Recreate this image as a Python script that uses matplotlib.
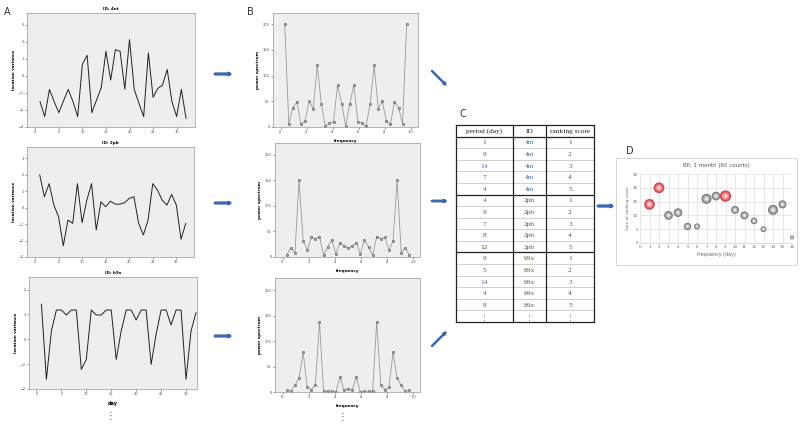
import matplotlib.pyplot as plt
import numpy as np
from matplotlib.patches import Rectangle

W, H = 800, 441

# ---- A: location variance per day
days = list(range(1, 33))
var_4nt = [-1.51, -2.39, -0.80, -1.51, -2.16, -1.46, -0.80, -1.51, -2.39, 0.68,
           1.20, -2.16, -1.42, -0.70, 1.44, -0.25, 1.53, 1.44, -0.78, 2.12,
           -0.80, -1.61, -2.39, 1.34, -1.26, -0.74, -0.54, 0.37, -1.51, -2.39,
           -0.80, -2.49]
var_2pb = [2.00, 0.67, 1.47, 0.16, -0.55, -2.32, -0.75, -0.95, 1.47, -0.91,
           0.46, 1.47, -1.35, 0.36, 0.06, 0.40, 0.22, 0.22, 0.30, 0.57,
           0.67, -0.95, -1.66, -0.75, 1.47, 1.07, 0.46, 0.16, 0.81, 0.16,
           -1.92, -0.95]
var_h9x = [1.41, -1.61, 0.34, 1.18, 1.18, 0.98, 1.18, 1.18, -1.21, -0.81,
           1.18, 0.98, 0.98, 1.18, 1.18, -0.81, 0.34, 1.18, 1.18, 0.78,
           1.18, 1.18, -1.01, 0.20, 1.18, 1.18, 0.58, 1.18, 1.18, -1.61,
           0.34, 1.07]

# ---- B: power spectrum, frequency = k/32
freq = [k / 32 for k in range(1, 32)]
pow_4nt = [200, 6.5, 37.7, 48.7, 5.2, 11.7, 50, 35.7, 120, 44.2, 1.3, 7.8, 9.7, 81.2, 45.5, 2,
           45.5, 81.2, 9.7, 7.8, 1.3, 44.2, 120, 35.7, 50, 11.7, 5.2, 48.7, 37.7, 6.5, 200]
pow_2pb = [4, 17.8, 8.6, 151, 31.6, 13.2, 38.8, 35.5, 40.1, 3.3, 19.7, 32.9, 6.6, 28.3, 21, 18.4,
           21, 28.3, 6.6, 32.9, 19.7, 3.3, 40.1, 35.5, 38.8, 13.2, 31.6, 151, 8.6, 17.8, 4]
pow_h9x = [3.3, 1.3, 13.2, 27.6, 77.6, 9.2, 4.6, 14.5, 137.5, 1.3, 1.3, 1.3, 0, 28.9, 4.6, 6.6,
           4.6, 28.9, 0, 1.3, 1.3, 1.3, 137.5, 14.5, 4.6, 9.2, 77.6, 27.6, 13.2, 1.3, 3.3]

# ---- C: ranking table
tbl_header = ['period (day)', 'ID', 'ranking score']
tbl_period = ['1', '9', '14', '7', '4', '4', '9', '7', '8', '12', '9', '5', '14', '4', '8']
tbl_id = ['4nt'] * 5 + ['2pb'] * 5 + ['h9x'] * 5
tbl_rank = ['1', '2', '3', '4', '5'] * 3

# ---- D: bubble chart
bp_day = list(range(1, 17))
bp_score = [14, 20, 10, 11, 6, 6, 16, 17, 17, 12, 10, 8, 5, 12, 14, 2]
bp_size = [16, 16, 13, 13, 11, 9, 15, 13, 17, 12, 12, 10, 9, 15, 12, 6]
bp_top = [1, 2, 9]

fig = plt.figure(figsize=(8, 4.41), dpi=100)


def box(l, t, r, b):
    return [l / W, 1 - b / H, (r - l) / W, (b - t) / H]


def style(ax):
    ax.set_facecolor('#eeeeee')
    for s in ax.spines.values():
        s.set_color('#999999')
        s.set_linewidth(0.5)
    ax.tick_params(labelsize=2.5, length=1.5, width=0.4, pad=1, colors='#444444')


def line_panel(rect, title, y, xlim, ylim, yticks, xlabel=None):
    ax = fig.add_axes(box(*rect))
    style(ax)
    ax.plot(days, y, color='#222222', lw=0.7)
    ax.set_xlim(xlim)
    ax.set_ylim(ylim)
    ax.set_xticks([0, 5, 10, 15, 20, 25, 30])
    ax.set_yticks(yticks)
    ax.set_ylabel('location variance', fontsize=3, fontweight='bold', labelpad=2)
    ax.set_title(title, fontsize=3, fontweight='bold', pad=2)
    if xlabel:
        ax.set_xlabel(xlabel, fontsize=3.5, fontweight='bold', labelpad=3)


def spec_panel(rect, p, xlim, ylim):
    ax = fig.add_axes(box(*rect))
    style(ax)
    ax.plot(freq, p, color='#999999', lw=0.6, marker='o', ms=1.6,
            mfc='#bbbbbb', mec='#444444', mew=0.4)
    ax.set_xlim(xlim)
    ax.set_ylim(ylim)
    ax.set_xticks([0, 0.2, 0.4, 0.6, 0.8, 1.0])
    ax.set_xticklabels(['.0', '.2', '.4', '.6', '.8', '1.0'])
    ax.set_yticks([0, 50, 100, 150, 200])
    ax.set_ylabel('power spectrum', fontsize=3, fontweight='bold', labelpad=2)
    ax.set_xlabel('frequency', fontsize=3, fontweight='bold', labelpad=3)


line_panel((27, 13, 195, 127), 'ID: 4nt', var_4nt, (-1.76, 33.9), (-3, 3.68), [-3, -2, -1, 0, 1, 2, 3])
line_panel((27, 147, 194, 257), 'ID: 2pb', var_2pb, (-1.7, 33.75), (-3, 3.7), [-3, -2, -1, 0, 1, 2, 3])
line_panel((29, 277, 197, 389), 'ID: h9x', var_h9x, (-1.49, 32.2), (-2, 2.51), [-2, -1, 0, 1, 2], xlabel='day')

spec_panel((273, 13, 418, 127), pow_4nt, (-0.059, 1.056), (0, 221.5))
spec_panel((275, 143, 420, 257), pow_2pb, (-0.059, 1.05), (0, 223))
spec_panel((275, 278, 420, 392), pow_h9x, (-0.059, 1.05), (0, 223.6))

# ---- table C
tax = fig.add_axes(box(456, 125, 594, 322))
tax.set_axis_off()
nrows = len(tbl_period) + 2
tax.set_xlim(456, 594)
tax.set_ylim(nrows, 0)
cols = [456, 513, 546, 594]
mids = [(cols[i] + cols[i + 1]) / 2 for i in range(3)]
blue, brown = '#4a6ea8', '#6b5034'
for j, h in enumerate(tbl_header):
    tax.text(mids[j], 0.55, h, ha='center', va='center', fontsize=5.3,
             family='Liberation Serif', color='#222222')
for i in range(len(tbl_period)):
    r = i + 1.55
    pc = blue if tbl_period[i] in ('14', '4') else brown
    ic = blue if tbl_id[i] == '4nt' else brown
    tax.text(mids[0], r, tbl_period[i], ha='center', va='center', fontsize=5.3,
             family='Liberation Serif', color=pc)
    tax.text(mids[1], r, tbl_id[i], ha='center', va='center', fontsize=5.3,
             family='Liberation Serif', color=ic)
    tax.text(mids[2], r, tbl_rank[i], ha='center', va='center', fontsize=5.3,
             family='Liberation Serif', color=brown)
for j in range(3):
    tax.text(mids[j], nrows - 0.45, '⋮', ha='center', va='center', fontsize=5,
             color='#555555')
for i in range(1, nrows):
    thick = i in (1, 6, 11)
    tax.plot([456, 594], [i, i], color='#222222' if thick else '#bbbbbb',
             lw=0.9 if thick else 0.5, clip_on=False)
for c in cols:
    tax.plot([c, c], [0, nrows], color='#222222', lw=0.9, clip_on=False)
tax.plot([456, 594], [0, 0], color='#222222', lw=0.9, clip_on=False)
tax.plot([456, 594], [nrows, nrows], color='#222222', lw=0.9, clip_on=False)

# ---- bubble chart D
fig.add_artist(Rectangle((616 / W, 1 - 265 / H), 181 / W, 107 / H,
                         transform=fig.transFigure, fill=False, ec='#d0d0d0', lw=0.6))
dax = fig.add_axes(box(640, 174, 792, 243))
dax.set_xlim(0, 16)
dax.set_ylim(0, 25)
dax.set_xticks(range(0, 17))
dax.set_yticks(range(0, 26, 5))
dax.grid(True, color='#dddddd', lw=0.5)
dax.set_axisbelow(True)
for s in dax.spines.values():
    s.set_visible(False)
dax.spines['bottom'].set_visible(True)
dax.spines['bottom'].set_color('#cccccc')
dax.spines['bottom'].set_linewidth(0.5)
dax.tick_params(labelsize=3, length=0, pad=1.5, colors='#666666')
dax.set_title('BP, 1 month (60 counts)', fontsize=4, color='#555555', pad=5)
dax.set_ylabel('Sum of ranking score', fontsize=3, color='#666666', labelpad=2)
dax.set_xlabel('frequency (day)', fontsize=3.5, color='#666666', labelpad=2)
bx = np.array(bp_day)
by = np.array(bp_score)
bs = (0.48 * np.array(bp_size)) ** 2
red = np.isin(bx, bp_top)
for scale, cg, cr in [(1.0, '#727272', '#c0404a'), (0.7, '#929292', '#dc5a64'),
                      (0.4, '#b8b8b8', '#ee8a90'), (0.12, '#e8e8e8', '#fbd0d2')]:
    dax.scatter(bx[~red], by[~red], s=bs[~red] * scale, color=cg, lw=0, zorder=3, clip_on=False)
    dax.scatter(bx[red], by[red], s=bs[red] * scale, color=cr, lw=0, zorder=3, clip_on=False)

# ---- panel letters, arrows, dots
for lbl, x, y in [('A', 7, 12), ('B', 250, 12), ('C', 463, 114), ('D', 630, 151)]:
    fig.text(x / W, 1 - y / H, lbl, fontsize=7, color='#333333', ha='center', va='center')

arrows = [((215, 74), (233, 74), 2.0), ((215, 203), (233, 203), 2.0), ((215, 336), (233, 336), 2.0),
          ((432, 71), (447, 86), 1.6), ((432, 201), (448, 201), 1.8), ((432, 346), (447, 331), 1.6),
          ((598, 206), (615, 206), 2.0)]
for (x1, y1), (x2, y2), w in arrows:
    fig.add_artist(plt.annotate('', xy=(x2, H - y2), xytext=(x1, H - y1),
                                xycoords='figure pixels', textcoords='figure pixels',
                                arrowprops=dict(arrowstyle='-|>', color='#3f68b0', lw=w,
                                                mutation_scale=3, shrinkA=0, shrinkB=0)))

for x, y in [(110, 416), (343, 417)]:
    fig.text(x / W, 1 - y / H, '⋮', fontsize=7, color='#3b5f8a', ha='center', va='center')

fig.savefig('out.png', dpi=100)
